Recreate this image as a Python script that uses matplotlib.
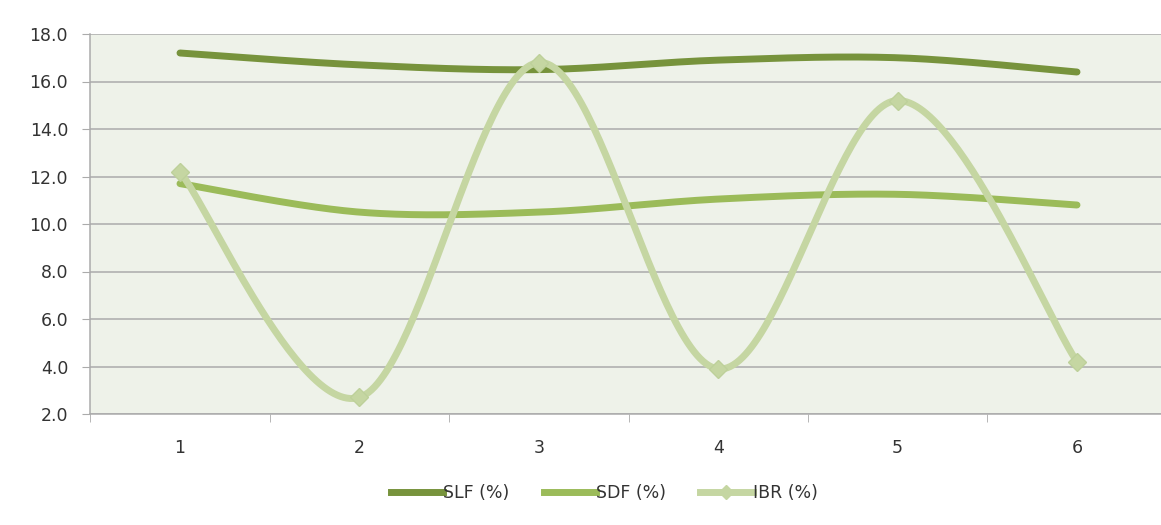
import numpy as np
import matplotlib
matplotlib.use("Agg")
import matplotlib.pyplot as plt
from matplotlib.lines import Line2D

categories = [1, 2, 3, 4, 5, 6]
slf = [17.2, 16.7, 16.5, 16.9, 17.0, 16.4]
sdf = [11.7, 10.5, 10.5, 11.05, 11.25, 10.8]
ibr = [12.2, 2.7, 16.8, 3.9, 15.2, 4.2]
y_ticks = [2.0, 4.0, 6.0, 8.0, 10.0, 12.0, 14.0, 16.0, 18.0]

c_slf = "#77933C"
c_sdf = "#9BBB59"
c_ibr = "#C5D6A2"
grid_c = "#ABABAB"


def smooth(xs, ys, n=60):
    """Cubic Bezier smoothing through every point (Catmull-Rom tangents)."""
    xs = np.asarray(xs, float)
    ys = np.asarray(ys, float)
    px, py = [], []
    m = len(xs)
    for i in range(m - 1):
        p0 = np.array([xs[max(i - 1, 0)], ys[max(i - 1, 0)]])
        p1 = np.array([xs[i], ys[i]])
        p2 = np.array([xs[i + 1], ys[i + 1]])
        p3 = np.array([xs[min(i + 2, m - 1)], ys[min(i + 2, m - 1)]])
        c1 = p1 + (p2 - p0) / 6.0
        c2 = p2 - (p3 - p1) / 6.0
        t = np.linspace(0, 1, n)[:, None]
        b = ((1 - t) ** 3) * p1 + 3 * ((1 - t) ** 2) * t * c1 + 3 * (1 - t) * t ** 2 * c2 + t ** 3 * p2
        if i > 0:
            b = b[1:]
        px.extend(b[:, 0])
        py.extend(b[:, 1])
    return np.array(px), np.array(py)


fig = plt.figure(figsize=(11.61, 5.25), dpi=100)
ax = fig.add_axes([90.3 / 1161, 1 - 414 / 525, (1166.7 - 90.3) / 1161, (414 - 34) / 525])
ax.set_facecolor("#EEF2E9")

for yv in y_ticks:
    ax.axhline(yv, color=grid_c, lw=1.1, zorder=1)

for vals, col in [(slf, c_slf), (sdf, c_sdf), (ibr, c_ibr)]:
    sx, sy = smooth(categories, vals)
    ax.plot(sx, sy, color=col, lw=5, solid_capstyle="round", zorder=3)
ax.plot(categories, ibr, linestyle="none", marker="D", ms=9, color=c_ibr,
        markeredgecolor="#BDD09A", zorder=4)

ax.set_xlim(0.5, 6.5)
ax.set_ylim(2.0, 18.0)
ax.set_yticks(y_ticks)
ax.set_yticklabels([f"{v:.1f}" for v in y_ticks], fontsize=12.5, color="#333333")
ax.set_xticks(categories)
ax.set_xticklabels([str(c) for c in categories], fontsize=12.5, color="#333333")
ax.set_xticks(np.arange(0.5, 7.0, 1.0), minor=True)
ax.tick_params(axis="x", which="major", length=0, pad=18)
ax.tick_params(axis="x", which="minor", length=6, color=grid_c, direction="out")
ax.tick_params(axis="y", length=6, color=grid_c, direction="out", pad=10)
for s in ["top", "right"]:
    ax.spines[s].set_visible(False)
for s in ["left", "bottom"]:
    ax.spines[s].set_color(grid_c)
    ax.spines[s].set_linewidth(1.1)

handles = [
    Line2D([], [], color=c_slf, lw=5),
    Line2D([], [], color=c_sdf, lw=5),
    Line2D([], [], color=c_ibr, lw=5, marker="D", ms=7),
]
fig.legend(handles, ["SLF (%)", "SDF (%)", "IBR (%)"], loc="center",
           bbox_to_anchor=(604 / 1161, 1 - 493 / 525), ncol=3, frameon=False,
           fontsize=12.5, handlelength=3.0, handletextpad=0.0, columnspacing=2.0,
           labelcolor="#333333")

fig.savefig("out.png", dpi=100, facecolor="white")
